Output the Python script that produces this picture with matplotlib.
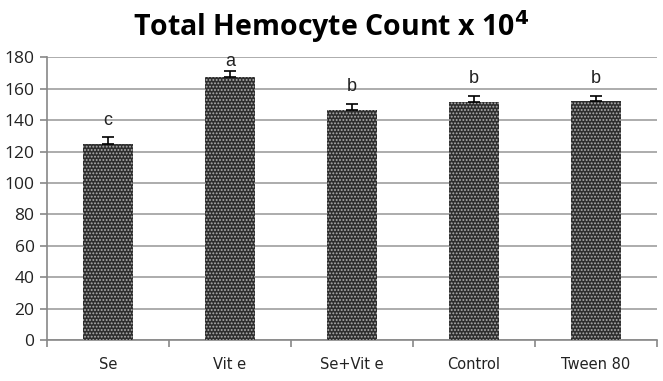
import matplotlib.pyplot as plt
import numpy as np

# Daten
groups = ['Se', 'Vit e', 'Se+Vit e', 'Control', 'Tween 80']
means = [124.8, 167.4, 146.8, 151.4, 152.3]
errors = [4.3, 4.0, 3.5, 4.3, 3.3]
letters = ['c', 'a', 'b', 'b', 'b']
yticks = [0, 20, 40, 60, 80, 100, 120, 140, 160, 180]

plt.rcParams['hatch.linewidth'] = 0.9

fig = plt.figure(figsize=(6.63, 3.81), dpi=100)
ax = fig.add_axes([0.0709, 0.1076, 0.920, 0.7415])

x = np.arange(len(groups))
bars = ax.bar(x, means, width=0.41, color='#2e2e2e', edgecolor='#b0b0b0',
              hatch='.....', linewidth=0, zorder=3)
ax.errorbar(x, means, yerr=[np.zeros(len(errors)), errors], fmt='none',
            ecolor='black', elinewidth=1.2, capsize=4.5, capthick=1.2, zorder=4)

# Buchstaben über den Balken (innerhalb der Achse halten)
for xi, m, e, lab in zip(x, means, errors, letters):
    ypos = min(m + e + 11, 177.5)
    ax.text(xi, ypos, lab, ha='center', va='center', fontsize=13,
            family='Liberation Sans', color='#222222', zorder=5)

ax.set_xlim(-0.5, len(groups) - 0.5)
ax.set_ylim(0, 180)
ax.set_yticks(yticks)
ax.set_yticklabels([str(v) for v in yticks], fontsize=12.5, family='Open Sans',
                   color='#222222')
ax.yaxis.grid(True, color='#a6a6a6', linewidth=1.3, zorder=0)
ax.set_axisbelow(True)

ax.set_xticks(x)
ax.set_xticklabels(groups, fontsize=10.5, family='DejaVu Sans', color='#222222')
ax.set_xticks(np.arange(-0.5, len(groups)), minor=True)
ax.tick_params(axis='x', which='major', length=0, pad=12)
ax.tick_params(axis='x', which='minor', length=5, color='#888888', width=1.2)
ax.tick_params(axis='y', length=5, color='#888888', width=1.2, pad=4)

for side in ['top', 'right']:
    ax.spines[side].set_visible(False)
for side in ['left', 'bottom']:
    ax.spines[side].set_color('#888888')
    ax.spines[side].set_linewidth(1.2)

fig.text(0.5, 0.93, 'Total Hemocyte Count x 10$^{\\mathbf{4}}$', ha='center',
         va='center', fontsize=20.5, fontweight='bold', family='Open Sans')

plt.savefig('out.png', dpi=100)
plt.close()
